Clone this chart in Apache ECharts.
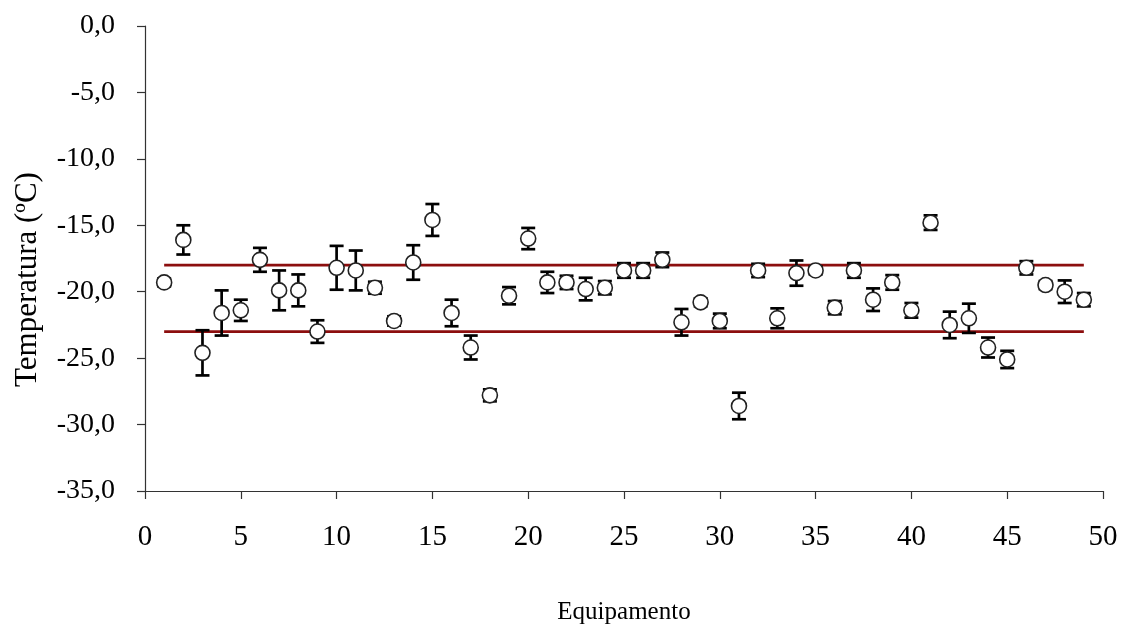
<!DOCTYPE html>
<html>
<head>
<meta charset="utf-8">
<script src="https://cdn.jsdelivr.net/npm/echarts@6/dist/echarts.min.js"></script>
<style>html,body{margin:0;padding:0;background:#fff;}#c{width:1123px;height:630px;}</style>
</head>
<body>
<div id="c"></div>
<script>
var equipamento = [1,2,3,4,5,6,7,8,9,10,11,12,13,14,15,16,17,18,19,20,21,22,23,24,25,26,27,28,29,30,31,32,33,34,35,36,37,38,39,40,41,42,43,44,45,46,47,48,49];
var temperatura = [-19.3,-16.1,-24.6,-21.6,-21.4,-17.6,-19.9,-19.9,-23.0,-18.2,-18.4,-19.7,-22.2,-17.8,-14.6,-21.6,-24.2,-27.8,-20.3,-16.0,-19.3,-19.3,-19.8,-19.7,-18.4,-18.4,-17.6,-22.3,-20.8,-22.2,-28.6,-18.4,-22.0,-18.6,-18.4,-21.2,-18.4,-20.6,-19.3,-21.4,-14.8,-22.5,-22.0,-24.2,-25.1,-18.2,-19.5,-20.0,-20.6];
var erro = [0.3,1.1,1.7,1.7,0.8,0.9,1.5,1.2,0.85,1.65,1.5,0.45,0.35,1.3,1.2,1.0,0.9,0.45,0.65,0.8,0.8,0.5,0.85,0.5,0.55,0.55,0.55,1.0,0.3,0.55,1.0,0.5,0.75,0.95,0.3,0.5,0.55,0.85,0.55,0.55,0.55,1.0,1.1,0.75,0.65,0.5,0.3,0.85,0.5];
var limiteSuperior = -18;
var limiteInferior = -23;
var limiteX = [1, 49];
var yTicks = [-35,-30,-25,-20,-15,-10,-5,0];
var xTicks = [0,5,10,15,20,25,30,35,40,45,50];

var pontos = equipamento.map(function(x,i){return [x, temperatura[i]];});
var barras = equipamento.map(function(x,i){return [x, temperatura[i]-erro[i], temperatura[i]+erro[i]];});

var font = 'Liberation Serif';
var chart = echarts.init(document.getElementById('c'), null, {renderer:'canvas'});
chart.setOption({
  animation:false,
  backgroundColor:'#fff',
  grid:{left:145,right:20,top:26,bottom:138,containLabel:false},
  xAxis:{
    type:'value', min:xTicks[0], max:xTicks[xTicks.length-1], interval:5,
    name:'Equipamento', nameLocation:'middle', nameGap:109,
    nameTextStyle:{fontFamily:font,fontSize:25,color:'#000'},
    axisLine:{show:true,onZero:false,lineStyle:{color:'#333',width:1.2}},
    axisTick:{show:true,length:8,inside:false,lineStyle:{color:'#333',width:1.2}},
    axisLabel:{fontFamily:font,fontSize:29,color:'#000',margin:32},
    splitLine:{show:false}
  },
  yAxis:{
    type:'value', min:yTicks[0], max:yTicks[yTicks.length-1], interval:5,
    name:'Temperatura (ºC)', nameLocation:'middle', nameGap:102,
    nameTextStyle:{fontFamily:font,fontSize:31,color:'#000',padding:[0,42,0,0]},
    axisLine:{show:true,onZero:false,lineStyle:{color:'#333',width:1.2}},
    axisTick:{show:true,length:8,inside:false,lineStyle:{color:'#333',width:1.2}},
    axisLabel:{fontFamily:font,fontSize:28,color:'#000',margin:30,
      formatter:function(v){return v.toFixed(1).replace('.',',');}},
    splitLine:{show:false}
  },
  series:[
    {type:'line', data:[[limiteX[0],limiteSuperior],[limiteX[1],limiteSuperior]], symbol:'none',
      lineStyle:{color:'#8c0e0e',width:2.7}, z:1, silent:true},
    {type:'line', data:[[limiteX[0],limiteInferior],[limiteX[1],limiteInferior]], symbol:'none',
      lineStyle:{color:'#8c0e0e',width:2.7}, z:1, silent:true},
    {type:'custom', data:barras, z:2,
      renderItem:function(params, api){
        var x = api.value(0);
        var lo = api.coord([x, api.value(1)]);
        var hi = api.coord([x, api.value(2)]);
        var w = 7;
        var st = {stroke:'#000', lineWidth:2.7};
        return {type:'group', children:[
          {type:'line', shape:{x1:lo[0],y1:lo[1],x2:hi[0],y2:hi[1]}, style:st},
          {type:'line', shape:{x1:lo[0]-w,y1:lo[1],x2:lo[0]+w,y2:lo[1]}, style:st},
          {type:'line', shape:{x1:hi[0]-w,y1:hi[1],x2:hi[0]+w,y2:hi[1]}, style:st}
        ]};
      }},
    {type:'scatter', data:pontos, symbol:'circle', symbolSize:15, z:3,
      itemStyle:{color:'#fff', borderColor:'#222', borderWidth:1.6, opacity:1}}
  ]
});
</script>
</body>
</html>
